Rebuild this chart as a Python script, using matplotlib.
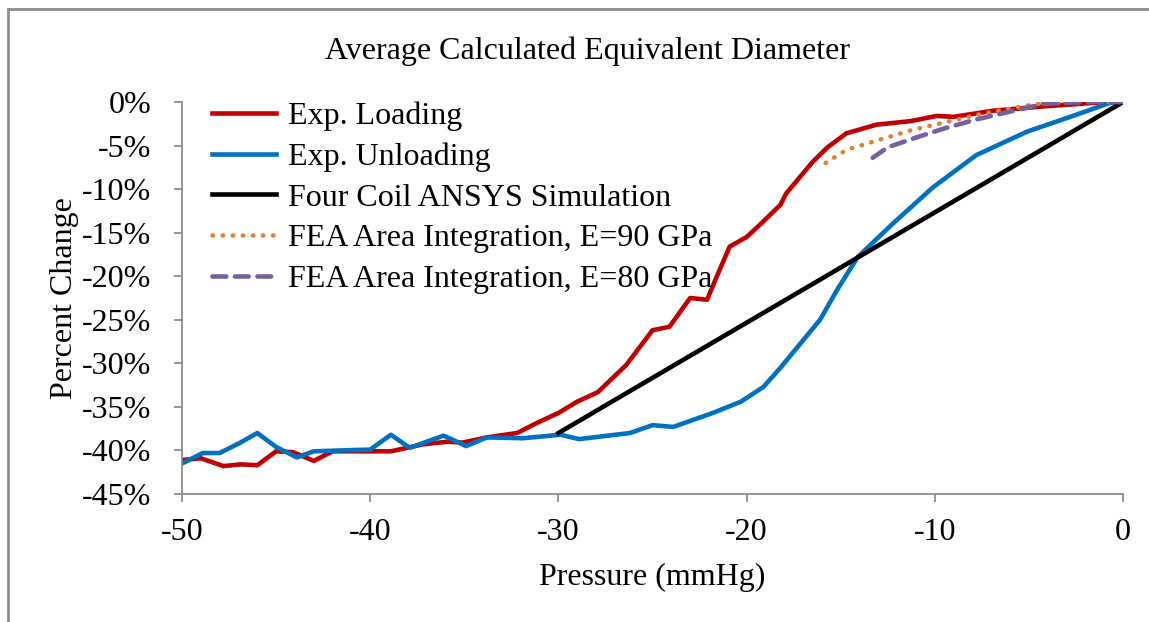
import matplotlib.pyplot as plt
from matplotlib.lines import Line2D
from matplotlib.ticker import FuncFormatter

plt.rcParams['font.family'] = ['Liberation Serif', 'DejaVu Serif']
plt.rcParams['axes.unicode_minus'] = False

# pressure (mmHg) and percent change in equivalent diameter
load_p = [-50, -49, -47.8, -46.9, -46, -45, -44.1, -43, -42, -40, -38.9, -37.2,
          -35.9, -35.1, -33.8, -32.2, -31.1, -30, -29, -27.9, -26.4, -25.7, -25,
          -24.1, -23, -22.1, -21.6, -20.9, -20, -19.3, -18.2, -17.9, -16.5, -15.7,
          -14.7, -13.1, -11.3, -9.9, -9, -6.9, -4.2, -1.6, 0]
load_pct = [-41.1, -40.9, -41.8, -41.6, -41.7, -40.1, -40.2, -41.2, -40.1, -40.1,
            -40.1, -39.3, -39.0, -39.1, -38.5, -38.0, -36.8, -35.7, -34.4, -33.3,
            -30.2, -28.2, -26.2, -25.8, -22.5, -22.7, -20.1, -16.6, -15.5, -14.1,
            -11.8, -10.5, -6.9, -5.2, -3.6, -2.6, -2.2, -1.6, -1.7, -1.0, -0.5,
            -0.1, 0]

unload_p = [-50, -48.9, -48, -46.9, -46, -45, -43.9, -43, -40, -38.9, -37.9, -36.1,
            -34.9, -33.8, -31.9, -29.9, -28.9, -26.2, -25, -23.9, -21.8, -20.3,
            -19.1, -18.2, -16.1, -15.2, -14.1, -12.2, -10.1, -7.8, -5.1, -2.8,
            -0.7, 0]
unload_pct = [-41.5, -40.3, -40.3, -39.1, -38.0, -39.6, -40.8, -40.1, -39.9, -38.2,
              -39.7, -38.3, -39.5, -38.5, -38.6, -38.2, -38.7, -38.0, -37.1, -37.3,
              -35.7, -34.4, -32.7, -30.5, -25.0, -21.6, -17.8, -13.9, -9.8, -6.1,
              -3.4, -1.7, -0.1, 0]

ansys_p = [-30, 0]
ansys_pct = [-38, 0]

fea90_p = [-15.8, -14.7, -12.9, -11.2, -9.4, -7.6, -5.6, -4.2, -2, 0]
fea90_pct = [-7.0, -5.5, -4.3, -3.2, -2.3, -1.4, -0.6, -0.1, 0, 0]

fea80_p = [-13.3, -12.5, -11.3, -9.6, -7.8, -6.0, -4.2, -2, 0]
fea80_pct = [-6.4, -5.2, -4.3, -3.1, -2.0, -1.1, -0.2, 0, 0]

fig = plt.figure(figsize=(11.49, 6.22), dpi=100)
ax = fig.add_axes([0.1584, 0.2058, 0.819, 0.6302])

lw = 3.3
ax.plot(load_p, load_pct, color='#C00000', lw=lw, label='Exp. Loading')
ax.plot(unload_p, unload_pct, color='#0070C0', lw=lw, label='Exp. Unloading')
ax.plot(ansys_p, ansys_pct, color='black', lw=lw, label='Four Coil ANSYS Simulation')
ax.plot(fea90_p, fea90_pct, color='#E0823A', lw=lw, linestyle=(0, (0.1, 2.1)),
        dash_capstyle='round', label='FEA Area Integration, E=90 GPa')
ax.plot(fea80_p, fea80_pct, color='#7560A0', lw=lw, linestyle=(0, (3.0, 1.9)),
        dash_capstyle='round', label='FEA Area Integration, E=80 GPa')

ax.set_xlim(-50, 0)
ax.set_ylim(-45, 0)
ax.set_xticks(range(-50, 1, 10))
ax.set_yticks(range(-45, 1, 5))
ax.yaxis.set_major_formatter(FuncFormatter(lambda v, _: f'{v:.0f}%'))

for s in ['top', 'right']:
    ax.spines[s].set_visible(False)
for s in ['left', 'bottom']:
    ax.spines[s].set_color('#8c8c8c')
    ax.spines[s].set_linewidth(1.3)
ax.tick_params(axis='both', colors='#8c8c8c', length=6, width=1.3,
               labelsize=23, labelcolor='black')
ax.tick_params(axis='y', pad=16)
ax.tick_params(axis='x', pad=11)

ax.set_xlabel('Pressure (mmHg)', fontsize=23, labelpad=12)
ax.set_ylabel('Percent Change', fontsize=23, labelpad=2)
fig.text(0.511, 0.918, 'Average Calculated Equivalent Diameter', fontsize=23,
         ha='center', va='center')

ax.legend(loc='upper left', bbox_to_anchor=(0.032, 1.002), frameon=False,
          fontsize=23, handlelength=2.0, handletextpad=0.37,
          labelspacing=0.36, borderaxespad=0, borderpad=0)

# chart area border (top and left edges)
border = '#8c8c8c'
fig.add_artist(Line2D([8 / 1149, 1.0], [1 - 9 / 622, 1 - 9 / 622],
                      transform=fig.transFigure, color=border, lw=2))
fig.add_artist(Line2D([8 / 1149, 8 / 1149], [0, 1 - 9 / 622],
                      transform=fig.transFigure, color=border, lw=2))

fig.savefig('out.png', dpi=100)
